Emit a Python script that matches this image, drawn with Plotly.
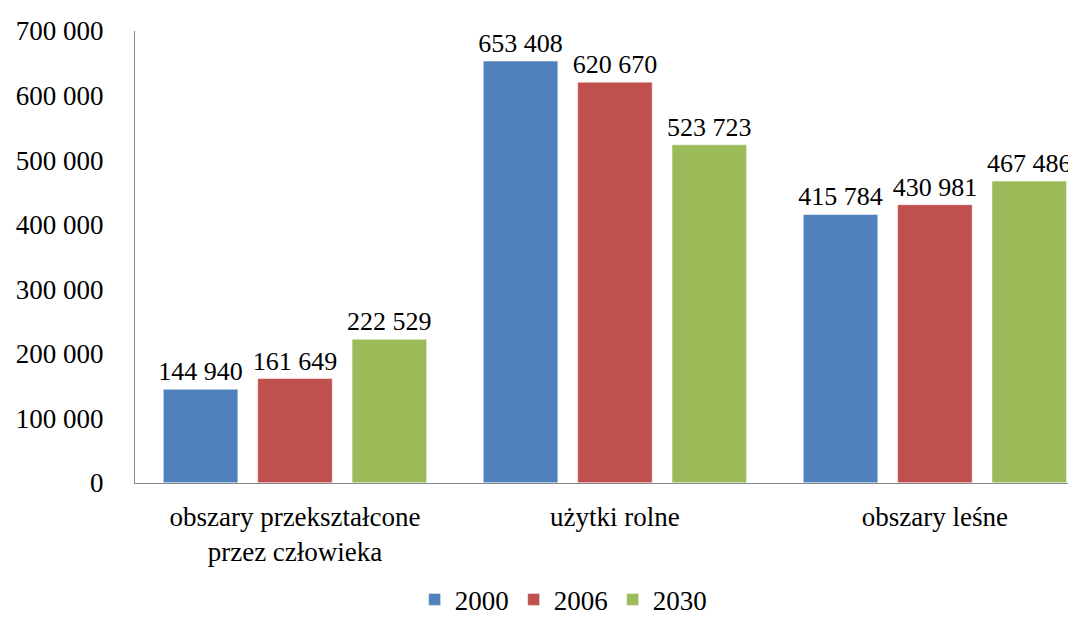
import plotly.graph_objects as go

categories = ["obszary przekształcone<br>przez człowieka", "użytki rolne", "obszary leśne"]
years = ["2000", "2006", "2030"]
values_2000 = [144940, 653408, 415784]
values_2006 = [161649, 620670, 430981]
values_2030 = [222529, 523723, 467486]
colors = ["#4F81BD", "#C0504D", "#9BBB59"]

serif = "Liberation Serif"

fig = go.Figure()
for name, vals, col in zip(years, [values_2000, values_2006, values_2030], colors):
    fig.add_trace(go.Bar(
        x=categories, y=vals, name=name,
        marker=dict(color=col, line=dict(color="rgba(255,255,255,0.5)", width=1)),
        texttemplate="%{y:,d}", textposition="outside", cliponaxis=False,
        constraintext="none",
        textfont=dict(family=serif, size=26, color="black"),
    ))

# the page body adds ~8px on the left/top, margins are set with that in mind
fig.update_layout(
    width=1076, height=623,
    margin=dict(l=121, r=8, t=19, b=138),
    paper_bgcolor="white", plot_bgcolor="white",
    separators=", ",
    barmode="group", bargap=0.115, bargroupgap=0.21,
    font=dict(family=serif, size=27, color="black"),
    showlegend=True,
    legend=dict(orientation="h", x=0.455, xanchor="center",
                yref="container", y=0.05, yanchor="middle",
                font=dict(family=serif, size=27, color="black"), traceorder="normal"),
    xaxis=dict(range=[-0.5, 2.441], showline=True, linecolor="#868686", linewidth=1,
               ticks="", tickfont=dict(family=serif, size=27, color="black"), showgrid=False,
               ticklabelstandoff=10),
    yaxis=dict(range=[0, 700000], dtick=100000, tickformat=",d", showline=True,
               linecolor="#868686", linewidth=1, ticks="", showgrid=False,
               zeroline=False, tickfont=dict(family=serif, size=27, color="black"),
               ticklabelstandoff=25),
)

fig.write_html("out.html")
